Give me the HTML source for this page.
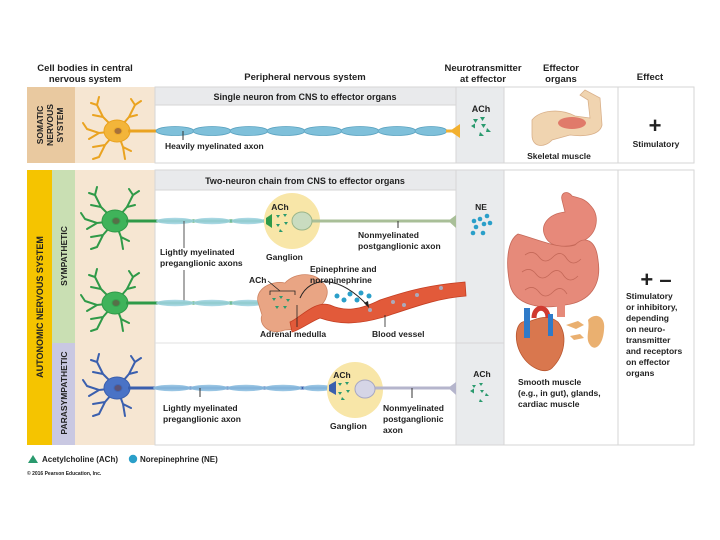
<!DOCTYPE html>
<html><head><meta charset="utf-8"><style>
html,body{margin:0;padding:0;background:#fff}
svg{display:block}
text{font-family:"Liberation Sans",Arial,sans-serif;font-weight:bold;fill:#222}
</style></head><body>
<svg width="720" height="540" viewBox="0 0 720 540" xmlns="http://www.w3.org/2000/svg">
<defs>
<g id="neuron">
  <g fill="none" stroke-width="2" stroke-linecap="round">
    <path d="M0,0 L-14,-14 L-20,-26 M-14,-14 L-24,-16 M-20,-26 L-26,-28 M-20,-26 L-18,-34"/>
    <path d="M0,0 L12,-14 L18,-26 M12,-14 L20,-16 M18,-26 L24,-30 M18,-26 L14,-32"/>
    <path d="M0,0 L-18,2 L-30,-2 M-18,2 L-28,8 M-30,-2 L-34,-8"/>
    <path d="M0,0 L-12,14 L-18,26 M-12,14 L-24,16 M-18,26 L-24,28"/>
    <path d="M0,0 L6,16 L8,28 M6,16 L14,20"/>
  </g>
  <ellipse cx="0" cy="0" rx="13" ry="11"/>
  <ellipse cx="1" cy="0" rx="4" ry="3.5" fill="#6a3a3a" opacity="0.55"/>
</g>
</defs>

<!-- headers -->
<text x="85" y="71" font-size="9.5" text-anchor="middle">Cell bodies in central</text>
<text x="85" y="82" font-size="9.5" text-anchor="middle">nervous system</text>
<text x="305" y="80" font-size="9.5" text-anchor="middle">Peripheral nervous system</text>
<text x="483" y="71" font-size="9.5" text-anchor="middle">Neurotransmitter</text>
<text x="483" y="82" font-size="9.5" text-anchor="middle">at effector</text>
<text x="561" y="71" font-size="9.5" text-anchor="middle">Effector</text>
<text x="561" y="82" font-size="9.5" text-anchor="middle">organs</text>
<text x="650" y="80" font-size="9.5" text-anchor="middle">Effect</text>

<!-- SOMATIC panel -->
<rect x="27" y="87" width="48" height="76" fill="#e9c9a0"/>
<rect x="75" y="87" width="80" height="76" fill="#f6e6d2"/>
<rect x="155" y="87" width="301" height="76" fill="#fff" stroke="#d6d6d6"/>
<rect x="155" y="87" width="301" height="18" fill="#e9eaec" stroke="#d6d6d6"/>
<rect x="456" y="87" width="48" height="76" fill="#e9ebed" stroke="#d6d6d6"/>
<rect x="504" y="87" width="114" height="76" fill="#fff" stroke="#d6d6d6"/>
<rect x="618" y="87" width="76" height="76" fill="#fff" stroke="#d6d6d6"/>
<text x="305" y="100" font-size="9" text-anchor="middle">Single neuron from CNS to effector organs</text>
<g font-size="8.5" text-anchor="middle">
<text transform="translate(43,125) rotate(-90)">SOMATIC</text>
<text transform="translate(53,125) rotate(-90)">NERVOUS</text>
<text transform="translate(63,125) rotate(-90)">SYSTEM</text>
</g>
<use href="#neuron" x="117" y="131" fill="#f3b53a" stroke="#eaa320"/>
<rect x="128" y="129.5" width="30" height="3" fill="#eaa320"/>
<g fill="#7fc0da" stroke="#5aa2c0" stroke-width="0.8">
<ellipse cx="175" cy="131" rx="19" ry="4.5"/><ellipse cx="212" cy="131" rx="19" ry="4.5"/>
<ellipse cx="249" cy="131" rx="19" ry="4.5"/><ellipse cx="286" cy="131" rx="19" ry="4.5"/>
<ellipse cx="323" cy="131" rx="19" ry="4.5"/><ellipse cx="360" cy="131" rx="19" ry="4.5"/>
<ellipse cx="397" cy="131" rx="19" ry="4.5"/><ellipse cx="431" cy="131" rx="16" ry="4.5"/>
</g>
<path d="M446,129.5 L452,129.5 L460,124 L460,138 L452,132.5 L446,132.5Z" fill="#f2b030"/>
<line x1="183" y1="131" x2="183" y2="140" stroke="#333"/>
<text x="165" y="149" font-size="8.5">Heavily myelinated axon</text>
<text x="481" y="112" font-size="9" text-anchor="middle">ACh</text>
<g fill="#2a9a6e">
<path d="M473,119 l5,0 l-2.5,4z"/><path d="M480,117 l5,0 l-2.5,4z"/><path d="M471,126 l4,-2.5 l0,5z"/>
<path d="M481,124 l5,0 l-2.5,4z"/><path d="M487,128 l4,4 l-5,0z"/><path d="M480,132 l4,4 l-5,0z"/>
</g>
<!-- arm -->
<path d="M532,120 C540,110 560,108 575,116 L590,118 L588,100 L580,95 L585,90 L600,98 L602,125 C600,135 585,137 570,135 L552,140 C545,148 532,148 532,135Z" fill="#f0d4b0" stroke="#d9b08a" stroke-width="0.8"/>
<ellipse cx="572" cy="123" rx="14" ry="6" fill="#e07a6a"/>
<text x="559" y="159" font-size="8.5" text-anchor="middle">Skeletal muscle</text>
<text x="655" y="133" font-size="22" text-anchor="middle">+</text>
<text x="656" y="147" font-size="8.5" text-anchor="middle">Stimulatory</text>

<!-- AUTONOMIC panel -->
<rect x="27" y="170" width="25" height="275" fill="#f5c400"/>
<rect x="52" y="170" width="23" height="173" fill="#c9dfb3"/>
<rect x="52" y="343" width="23" height="102" fill="#c9c8e2"/>
<rect x="75" y="170" width="80" height="275" fill="#f6e6d2"/>
<rect x="155" y="170" width="301" height="275" fill="#fff" stroke="#d6d6d6"/>
<rect x="155" y="170" width="301" height="20" fill="#e9eaec" stroke="#d6d6d6"/>
<line x1="155" y1="343" x2="456" y2="343" stroke="#e0e0e0"/>
<rect x="456" y="170" width="48" height="275" fill="#e9ebed" stroke="#d6d6d6"/>
<line x1="456" y1="343" x2="504" y2="343" stroke="#d6d6d6"/>
<rect x="504" y="170" width="114" height="275" fill="#fff" stroke="#d6d6d6"/>
<rect x="618" y="170" width="76" height="275" fill="#fff" stroke="#d6d6d6"/>
<text x="305" y="184" font-size="9" text-anchor="middle">Two-neuron chain from CNS to effector organs</text>
<text transform="translate(43,307) rotate(-90)" font-size="9" text-anchor="middle">AUTONOMIC NERVOUS SYSTEM</text>
<text transform="translate(67,256) rotate(-90)" font-size="8.5" text-anchor="middle">SYMPATHETIC</text>
<text transform="translate(67,393) rotate(-90)" font-size="8.5" text-anchor="middle">PARASYMPATHETIC</text>

<!-- symp neuron 1 -->
<use href="#neuron" x="115" y="221" fill="#3fb35a" stroke="#2f9a48"/>
<rect x="126" y="219.5" width="150" height="3" fill="#2f9a48"/>
<g fill="#9fd3e0" opacity="0.9">
<ellipse cx="175" cy="221" rx="19" ry="3.2"/><ellipse cx="212" cy="221" rx="19" ry="3.2"/><ellipse cx="248" cy="221" rx="17" ry="3.2"/>
</g>
<circle cx="292" cy="221" r="28" fill="#f8e6a8"/>
<path d="M266,218 L272,214 L272,228 L266,224Z" fill="#2f9a48"/>
<rect x="300" y="219.5" width="150" height="3" fill="#a9bf98"/>
<ellipse cx="302" cy="221" rx="10" ry="9" fill="#c9dcc0" stroke="#9ab58a"/>
<path d="M446,219.5 L450,219.5 L456,215 L456,228 L450,222.5Z" fill="#a9bf98"/>
<text x="280" y="210" font-size="8.5" text-anchor="middle">ACh</text>
<g fill="#2a9a6e"><path d="M276,215 l4,0 l-2,3z"/><path d="M283,214 l4,0 l-2,3z"/><path d="M276,224 l4,0 l-2,3z"/><path d="M284,222 l4,0 l-2,3z"/><path d="M280,229 l3,3 l-4,0z"/></g>
<line x1="398" y1="221" x2="398" y2="228" stroke="#333"/>
<text x="358" y="238" font-size="8.5">Nonmyelinated</text>
<text x="358" y="249" font-size="8.5">postganglionic axon</text>
<text x="266" y="260" font-size="8.5">Ganglion</text>
<text x="160" y="255" font-size="8.5">Lightly myelinated</text>
<text x="160" y="266" font-size="8.5">preganglionic axons</text>
<line x1="184" y1="221" x2="184" y2="248" stroke="#555"/>
<line x1="184" y1="270" x2="184" y2="303" stroke="#555"/>
<text x="481" y="210" font-size="8.5" text-anchor="middle">NE</text>
<g fill="#2a9fc9"><circle cx="474" cy="221" r="2.3"/><circle cx="480" cy="219" r="2.3"/><circle cx="487" cy="216" r="2.3"/><circle cx="476" cy="227" r="2.3"/><circle cx="484" cy="224" r="2.3"/><circle cx="490" cy="223" r="2.3"/><circle cx="473" cy="233" r="2.3"/><circle cx="483" cy="233" r="2.3"/></g>

<!-- symp neuron 2 -->
<use href="#neuron" x="115" y="303" fill="#3fb35a" stroke="#2f9a48"/>
<rect x="126" y="301.5" width="140" height="3" fill="#2f9a48"/>
<g fill="#9fd3e0" opacity="0.9">
<ellipse cx="175" cy="303" rx="19" ry="3.2"/><ellipse cx="212" cy="303" rx="19" ry="3.2"/><ellipse cx="248" cy="303" rx="17" ry="3.2"/>
</g>
<path d="M258,302 C255,290 270,280 285,283 C295,272 315,272 322,282 C332,290 326,302 318,308 C315,322 300,330 285,330 C270,336 258,325 262,315Z" fill="#e9a584" stroke="#cf8462" stroke-width="0.8"/>
<path d="M290,322 C300,318 315,300 330,305 C345,312 360,310 380,300 C410,290 430,285 465,282 L466,296 C440,298 420,305 390,315 C360,325 340,325 320,318 C310,322 300,330 292,332Z" fill="#e25a3a" stroke="#c43e22" stroke-width="0.8"/>
<g fill="#2a9fc9"><circle cx="337" cy="296" r="2.5"/><circle cx="344" cy="300" r="2.5"/><circle cx="350" cy="294" r="2.5"/><circle cx="357" cy="300" r="2.5"/><circle cx="361" cy="293" r="2.5"/><circle cx="369" cy="296" r="2.5"/></g>
<g fill="#aab"><circle cx="370" cy="310" r="2"/><circle cx="393" cy="302" r="2"/><circle cx="417" cy="295" r="2"/><circle cx="441" cy="288" r="2"/><circle cx="404" cy="305" r="2"/></g>
<path d="M300,298 C310,275 340,275 368,306" fill="none" stroke="#222" stroke-width="1"/>
<path d="M364,303 l5,5 l-1,-7z" fill="#222"/>
<g fill="#2a9a6e"><path d="M272,298 l4,0 l-2,3z"/><path d="M279,296 l4,0 l-2,3z"/><path d="M286,299 l4,0 l-2,3z"/><path d="M275,306 l4,0 l-2,3z"/><path d="M283,306 l4,0 l-2,3z"/></g>
<path d="M270,295 L270,291 L295,291 L295,295" fill="none" stroke="#222" stroke-width="0.8"/>
<text x="249" y="283" font-size="8.5">ACh</text>
<line x1="268" y1="281" x2="280" y2="291" stroke="#222" stroke-width="0.8"/>
<text x="310" y="272" font-size="8.5">Epinephrine and</text>
<text x="310" y="283" font-size="8.5">norepinephrine</text>
<line x1="297" y1="305" x2="297" y2="327" stroke="#222" stroke-width="0.8"/>
<text x="260" y="337" font-size="8.5">Adrenal medulla</text>
<line x1="385" y1="315" x2="385" y2="327" stroke="#222" stroke-width="0.8"/>
<text x="372" y="337" font-size="8.5">Blood vessel</text>

<!-- parasympathetic -->
<use href="#neuron" x="117" y="388" fill="#4a73c6" stroke="#3a5fae"/>
<rect x="128" y="386.5" width="212" height="3" fill="#3a5fae"/>
<g fill="#8ebfe0" opacity="0.9">
<ellipse cx="172" cy="388" rx="19" ry="3.2"/><ellipse cx="209" cy="388" rx="19" ry="3.2"/><ellipse cx="246" cy="388" rx="19" ry="3.2"/><ellipse cx="283" cy="388" rx="19" ry="3.2"/><ellipse cx="318" cy="388" rx="15" ry="3.2"/>
</g>
<circle cx="355" cy="390" r="28" fill="#f8e6a8"/>
<path d="M329,385 L336,381 L336,395 L329,391Z" fill="#3a5fae"/>
<rect x="362" y="386.5" width="88" height="3" fill="#b5b5cc"/>
<ellipse cx="365" cy="389" rx="10" ry="9" fill="#d5d5e6" stroke="#a8a8c2"/>
<path d="M446,386.5 L450,386.5 L456,382 L456,395 L450,389.5Z" fill="#b5b5cc"/>
<text x="342" y="378" font-size="8.5" text-anchor="middle">ACh</text>
<g fill="#2a9a6e"><path d="M338,383 l4,0 l-2,3z"/><path d="M345,382 l4,0 l-2,3z"/><path d="M338,392 l4,0 l-2,3z"/><path d="M346,390 l4,0 l-2,3z"/><path d="M342,397 l3,3 l-4,0z"/></g>
<line x1="200" y1="388" x2="200" y2="397" stroke="#333"/>
<text x="163" y="411" font-size="8.5">Lightly myelinated</text>
<text x="163" y="422" font-size="8.5">preganglionic axon</text>
<text x="330" y="429" font-size="8.5">Ganglion</text>
<line x1="412" y1="388" x2="412" y2="398" stroke="#333"/>
<text x="383" y="411" font-size="8.5">Nonmyelinated</text>
<text x="383" y="422" font-size="8.5">postganglionic</text>
<text x="383" y="433" font-size="8.5">axon</text>
<text x="482" y="377" font-size="8.5" text-anchor="middle">ACh</text>
<g fill="#2a9a6e"><path d="M472,385 l4,0 l-2,3z"/><path d="M479,383 l4,0 l-2,3z"/><path d="M470,391 l4,-2.5 l0,5z"/><path d="M480,390 l4,0 l-2,3z"/><path d="M486,393 l3,3 l-4,0z"/><path d="M480,399 l3,3 l-4,0z"/></g>

<!-- organs -->
<path d="M572,196 C568,190 560,192 562,200 L565,212 C548,214 540,225 545,236 C550,248 568,250 585,240 C598,232 600,215 590,205 C584,198 578,198 572,196Z" fill="#e7897a" stroke="#c86a5a" stroke-width="0.8"/>
<path d="M518,234 C508,240 505,260 510,285 C515,305 540,310 565,305 C590,302 602,285 598,260 C596,240 585,235 575,245 C560,250 540,240 518,234Z" fill="#e68a7a" stroke="#c46858" stroke-width="0.8"/>
<g fill="none" stroke="#c46858" stroke-width="0.8">
<path d="M525,255 q8,-6 14,2 q6,8 14,0 q8,-8 14,2 q6,8 14,0"/><path d="M522,272 q8,-6 14,2 q6,8 14,0 q8,-8 14,2 q6,8 14,0"/><path d="M525,290 q8,-6 14,2 q6,8 14,0 q8,-8 14,2"/></g>
<rect x="557" y="303" width="8" height="14" fill="#e68a7a"/>
<path d="M528,322 C518,318 512,335 520,352 C528,368 545,375 552,368 C565,355 568,335 558,322 C548,314 538,318 528,322Z" fill="#d9774e" stroke="#b8552e" stroke-width="0.8"/>
<rect x="524" y="308" width="6" height="30" fill="#2f7ac8"/>
<path d="M534,318 C534,305 548,305 548,318" fill="none" stroke="#d03a30" stroke-width="5"/>
<rect x="548" y="314" width="5" height="22" fill="#2f7ac8"/>
<path d="M566,325 l12,-4 l6,4 l-8,4z" fill="#eab070"/>
<path d="M570,336 l10,-2 l4,4 l-10,2z" fill="#eab070"/>
<path d="M588,320 C595,312 606,316 604,330 C603,345 595,352 590,345 C585,338 590,330 588,320Z" fill="#eab070"/>
<text x="518" y="385" font-size="8.5">Smooth muscle</text>
<text x="518" y="396" font-size="8.5">(e.g., in gut), glands,</text>
<text x="518" y="407" font-size="8.5">cardiac muscle</text>
<text x="656" y="287" font-size="22" text-anchor="middle">+ –</text>
<g font-size="8.5">
<text x="626" y="299">Stimulatory</text>
<text x="626" y="310">or inhibitory,</text>
<text x="626" y="321">depending</text>
<text x="626" y="332">on neuro-</text>
<text x="626" y="343">transmitter</text>
<text x="626" y="354">and receptors</text>
<text x="626" y="365">on effector</text>
<text x="626" y="376">organs</text>
</g>

<!-- legend -->
<path d="M28,463 l5,-8 l5,8z" fill="#2a9a6e"/>
<text x="42" y="462" font-size="8">Acetylcholine (ACh)</text>
<circle cx="133" cy="459" r="4.2" fill="#2a9fc9"/>
<text x="140" y="462" font-size="8">Norepinephrine (NE)</text>
<text x="27" y="475" font-size="5" font-weight="normal" fill="#444">© 2016 Pearson Education, Inc.</text>
</svg>
</body></html>
